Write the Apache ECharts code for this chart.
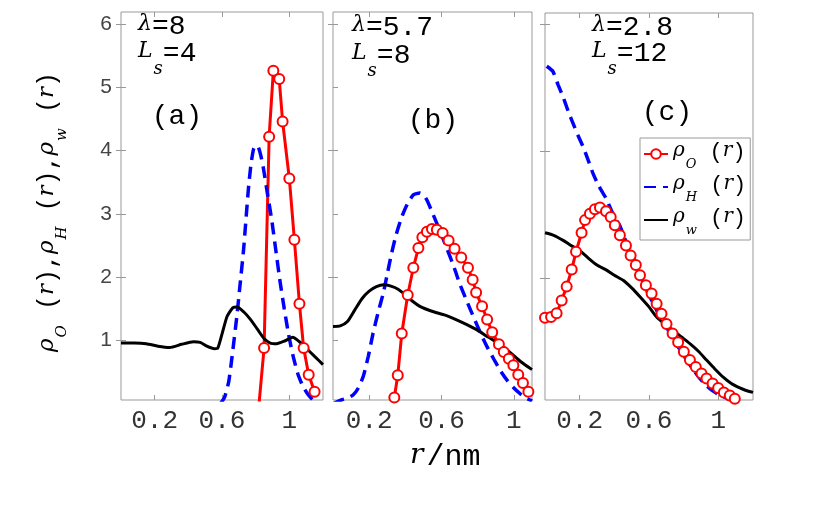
<!DOCTYPE html>
<html>
<head>
<meta charset="utf-8">
<title>rho(r) profiles</title>
<script src="https://cdn.jsdelivr.net/npm/echarts@6.0.0/dist/echarts.min.js"></script>
<style>
  html, body { margin: 0; padding: 0; background: #fff; }
  #main { width: 822px; height: 507px; }
</style>
</head>
<body>
<div id="main"></div>
<script>
// panel (a): lambda = 8, Ls = 4
const aOx = [0.82, 0.85, 0.88, 0.905, 0.94, 0.96, 1.00, 1.03, 1.06, 1.085, 1.115, 1.15];
const aOy = [0.00, 0.88, 4.22, 5.26, 5.13, 4.46, 3.56, 2.59, 1.58, 0.88, 0.46, 0.19];
const aHx = [0.59, 0.615, 0.64, 0.66, 0.688, 0.708, 0.728, 0.742, 0.757, 0.772, 0.787, 0.80, 0.815, 0.83, 0.846, 0.87, 0.895, 0.92, 0.945, 0.97, 0.994, 1.02, 1.05, 1.08, 1.11, 1.14, 1.17];
const aHy = [0.00, 0.10, 0.35, 0.75, 1.38, 1.90, 2.43, 2.90, 3.40, 3.78, 4.02, 4.08, 4.06, 3.93, 3.72, 3.32, 2.91, 2.42, 1.93, 1.50, 1.12, 0.78, 0.48, 0.28, 0.15, 0.06, 0.00];
const aWx = [0.00, 0.08, 0.15, 0.22, 0.29, 0.36, 0.43, 0.47, 0.51, 0.555, 0.575, 0.60, 0.63, 0.665, 0.69, 0.73, 0.77, 0.81, 0.85, 0.886, 0.925, 0.97, 1.02, 1.06, 1.10, 1.15, 1.20];
const aWy = [0.96, 0.96, 0.95, 0.91, 0.89, 0.94, 0.98, 0.97, 0.91, 0.87, 0.88, 1.10, 1.38, 1.52, 1.53, 1.45, 1.33, 1.18, 1.03, 0.96, 0.95, 0.99, 1.05, 0.98, 0.88, 0.75, 0.62];

// panel (b): lambda = 5.7, Ls = 8
const bOx = [0.339, 0.358, 0.38, 0.413, 0.444, 0.472, 0.494, 0.519, 0.547, 0.574, 0.606, 0.639, 0.672, 0.709, 0.746, 0.772, 0.791, 0.824, 0.852, 0.88, 0.917, 0.944, 0.972, 0.997, 1.024, 1.05, 1.08];
const bOy = [0.10, 0.45, 1.11, 1.72, 2.15, 2.46, 2.63, 2.72, 2.76, 2.75, 2.70, 2.58, 2.45, 2.31, 2.15, 1.96, 1.76, 1.54, 1.33, 1.13, 0.94, 0.82, 0.71, 0.61, 0.46, 0.33, 0.19];
const bHx = [0.00, 0.046, 0.08, 0.111, 0.14, 0.167, 0.195, 0.222, 0.25, 0.278, 0.30, 0.324, 0.35, 0.38, 0.41, 0.444, 0.48, 0.50, 0.519, 0.545, 0.574, 0.60, 0.63, 0.67, 0.70, 0.74, 0.78, 0.815, 0.852, 0.89, 0.926, 0.963, 1.00, 1.03, 1.06, 1.09, 1.10];
const bHy = [0.00, 0.06, 0.09, 0.14, 0.25, 0.43, 0.75, 1.12, 1.45, 1.75, 2.05, 2.38, 2.68, 2.95, 3.15, 3.30, 3.33, 3.30, 3.22, 3.05, 2.85, 2.67, 2.45, 2.15, 1.90, 1.62, 1.35, 1.12, 0.90, 0.70, 0.52, 0.37, 0.25, 0.17, 0.10, 0.06, 0.04];
const bWx = [0.00, 0.04, 0.08, 0.12, 0.16, 0.20, 0.24, 0.28, 0.32, 0.36, 0.40, 0.44, 0.48, 0.52, 0.56, 0.62, 0.68, 0.74, 0.80, 0.86, 0.92, 0.98, 1.04, 1.10];
const bWy = [1.22, 1.23, 1.30, 1.48, 1.66, 1.78, 1.85, 1.88, 1.86, 1.81, 1.72, 1.62, 1.54, 1.49, 1.45, 1.40, 1.33, 1.25, 1.16, 1.05, 0.95, 0.81, 0.66, 0.54];

// panel (c): lambda = 2.8, Ls = 12
const cOx = [0.00, 0.035, 0.067, 0.096, 0.125, 0.154, 0.179, 0.211, 0.231, 0.259, 0.288, 0.317, 0.352, 0.379, 0.403, 0.432, 0.467, 0.494, 0.524, 0.548, 0.582, 0.615, 0.644, 0.672, 0.701, 0.736, 0.768, 0.801, 0.836, 0.870, 0.903, 0.932, 0.967, 0.999, 1.032, 1.066, 1.095, 1.12];
const cOy = [1.37, 1.38, 1.44, 1.64, 1.86, 2.13, 2.41, 2.71, 2.91, 3.01, 3.08, 3.11, 3.05, 2.96, 2.83, 2.67, 2.51, 2.35, 2.20, 2.04, 1.88, 1.75, 1.59, 1.43, 1.27, 1.12, 0.98, 0.83, 0.70, 0.59, 0.49, 0.41, 0.33, 0.26, 0.19, 0.14, 0.09, 0.06];
const cHx = [0.01, 0.045, 0.075, 0.105, 0.135, 0.163, 0.19, 0.221, 0.25, 0.278, 0.31, 0.336, 0.355, 0.385, 0.413, 0.432, 0.46, 0.49, 0.509, 0.548, 0.586, 0.624, 0.663, 0.70, 0.739, 0.78, 0.817, 0.855, 0.893, 0.93, 0.97, 1.02, 1.066, 1.09, 1.12];
const cHy = [5.34, 5.26, 5.05, 4.85, 4.62, 4.43, 4.25, 4.06, 3.85, 3.64, 3.45, 3.33, 3.24, 3.05, 2.90, 2.82, 2.62, 2.45, 2.33, 2.05, 1.80, 1.60, 1.38, 1.22, 1.04, 0.86, 0.70, 0.55, 0.41, 0.30, 0.21, 0.13, 0.08, 0.05, 0.02];
const cWx = [0.00, 0.05, 0.105, 0.15, 0.20, 0.25, 0.30, 0.355, 0.40, 0.451, 0.50, 0.548, 0.60, 0.644, 0.69, 0.739, 0.79, 0.836, 0.885, 0.932, 0.98, 1.028, 1.075, 1.124, 1.16, 1.20];
const cWy = [2.71, 2.67, 2.59, 2.51, 2.43, 2.31, 2.20, 2.12, 2.04, 1.96, 1.84, 1.70, 1.54, 1.38, 1.27, 1.17, 1.06, 0.96, 0.84, 0.70, 0.56, 0.43, 0.33, 0.26, 0.22, 0.19];

// ticks
const xTicks = [0.2, 0.6, 1.0];
const yTicksAll = [1, 2, 3, 4, 5, 6];
const yTicksEven = [2, 4, 6];

const panels = [
  { O: [aOx, aOy], H: [aHx, aHy], W: [aWx, aWy], xMax: 1.2, yMin: 0.06, yMax: 6.19, left: yTicksAll, right: yTicksAll,
    grid: { left: 121, top: 12, width: 202, height: 388 } },
  { O: [bOx, bOy], H: [bHx, bHy], W: [bWx, bWy], xMax: 1.1, yMin: 0.06, yMax: 6.19, left: yTicksAll, right: yTicksEven,
    grid: { left: 333, top: 12, width: 199, height: 388 } },
  { O: [cOx, cOy], H: [cHx, cHy], W: [cWx, cWy], xMax: 1.2, yMin: 0.07, yMax: 6.18, left: yTicksEven, right: yTicksEven,
    grid: { left: 545, top: 13, width: 208, height: 387 } }
];

const mono = 'Liberation Mono';
const serif = 'DejaVu Serif';
const boxColor = '#999';

function pairs(xs, ys) {
  return xs.map((x, k) => [x, ys[k]]);
}

function richSet(main, ital, sub, drop) {
  return {
    m: { fontFamily: mono, fontSize: main, lineHeight: main + 4, verticalAlign: 'top', color: '#000' },
    i: { fontFamily: serif, fontStyle: 'italic', fontSize: ital, lineHeight: main + 4, verticalAlign: 'top', color: '#000' },
    s: { fontFamily: serif, fontStyle: 'italic', fontSize: sub, lineHeight: sub, padding: [drop, 0, 0, 1], verticalAlign: 'top', color: '#000' }
  };
}

const annRich = richSet(28, 22, 18, 20);
const legRich = richSet(22, 20, 13, 17);
const yRich = richSet(25, 23, 15, 19);
const xRich = {
  r: { fontFamily: serif, fontStyle: 'italic', fontSize: 28, lineHeight: 34, verticalAlign: 'top', color: '#000' },
  m: { fontFamily: mono, fontSize: 30, lineHeight: 34, verticalAlign: 'top', padding: [0, 0, 0, 3], color: '#000' }
};

const grids = [], xAxes = [], yAxes = [], series = [];
panels.forEach((p, i) => {
  grids.push(Object.assign({ show: true, borderColor: boxColor, borderWidth: 1, outerBoundsMode: 'none' }, p.grid));
  [false, true].forEach(top => {
    xAxes.push({
      type: 'value', gridIndex: i, position: top ? 'top' : 'bottom',
      min: 0, max: p.xMax,
      axisLine: { show: false }, splitLine: { show: false },
      axisTick: { show: true, inside: true, length: 5, lineStyle: { color: boxColor }, customValues: xTicks },
      axisLabel: top ? { show: false } : {
        customValues: xTicks, margin: 8,
        formatter: v => (v === 1 ? '1' : v.toFixed(1)),
        fontFamily: mono, fontSize: 26, color: '#333'
      }
    });
  });
  [p.left, p.right].forEach((ticks, side) => {
    yAxes.push({
      type: 'value', gridIndex: i, position: side ? 'right' : 'left',
      min: p.yMin, max: p.yMax,
      axisLine: { show: false }, splitLine: { show: false },
      axisTick: { show: true, inside: true, length: 5, lineStyle: { color: boxColor }, customValues: ticks },
      axisLabel: (i === 0 && side === 0) ? {
        customValues: ticks, margin: 9,
        fontFamily: 'Liberation Sans', fontSize: 21, color: '#444'
      } : { show: false }
    });
  });
  const base = { type: 'line', xAxisIndex: 2 * i, yAxisIndex: 2 * i, clip: true };
  series.push(Object.assign({}, base, {
    name: 'rhoO', data: pairs(p.O[0], p.O[1]),
    symbol: 'emptyCircle', symbolSize: 10,
    lineStyle: { color: '#ff0000', width: 3 },
    itemStyle: { color: '#ff0000', borderWidth: 2.8 }
  }));
  series.push(Object.assign({}, base, {
    name: 'rhoH', data: pairs(p.H[0], p.H[1]),
    symbol: 'none', smooth: 0.2,
    lineStyle: { color: '#0000ff', width: 3.5, type: [12, 7] },
    itemStyle: { color: '#0000ff' }
  }));
  series.push(Object.assign({}, base, {
    name: 'rhoW', data: pairs(p.W[0], p.W[1]),
    symbol: 'none', smooth: 0.2,
    lineStyle: { color: '#000', width: 3 },
    itemStyle: { color: '#000' }
  }));
});

const legendText = {
  rhoO: '{i|ρ}{s|O}{m| (}{i|r}{m|)}',
  rhoH: '{i|ρ}{s|H}{m| (}{i|r}{m|)}',
  rhoW: '{i|ρ}{s|w}{m| (}{i|r}{m|)}'
};
const noMark = { color: 'rgba(0,0,0,0)', borderColor: 'rgba(0,0,0,0)', borderWidth: 0, opacity: 0 };

function label(x, y, text, align, rich) {
  return {
    type: 'text', x: x, y: y, silent: true,
    style: { text: text, rich: rich || annRich, align: align || 'left', verticalAlign: 'top',
             textAlign: align || 'left', textVerticalAlign: 'top' }
  };
}

const option = {
  animation: false,
  backgroundColor: '#fff',
  grid: grids,
  xAxis: xAxes,
  yAxis: yAxes,
  series: series,
  legend: {
    data: [
      { name: 'rhoO' },
      { name: 'rhoH', itemStyle: noMark },
      { name: 'rhoW', itemStyle: noMark }
    ],
    orient: 'vertical', left: 640, top: 138,
    padding: [3, 4, 3, 3], itemGap: 3, itemWidth: 24, itemHeight: 12,
    backgroundColor: '#fff', borderColor: boxColor, borderWidth: 1, borderRadius: 0,
    selectedMode: false,
    formatter: n => legendText[n],
    textStyle: { rich: legRich }
  },
  graphic: [
    label(138, 13, '{i|λ}{m|=8}'),
    label(138, 40, '{i|L}{s|s}{m|=4}'),
    label(177, 103, '{m|(a)}', 'center'),
    label(352, 14, '{i|λ}{m|=5.7}'),
    label(352, 42, '{i|L}{s|s}{m|=8}'),
    label(433, 107, '{m|(b)}', 'center'),
    label(592, 14, '{i|λ}{m|=2.8}'),
    label(592, 40, '{i|L}{s|s}{m|=12}'),
    label(667, 99, '{m|(c)}', 'center'),
    label(410, 442, '{r|r}{m|/nm}', 'left', xRich),
    {
      type: 'text', x: 50, y: 212, rotation: Math.PI / 2, silent: true,
      style: {
        text: '{i|ρ}{s|O}{m| (}{i|r}{m|),}{i|ρ}{s|H}{m| (}{i|r}{m|),}{i|ρ}{s|w}{m| (}{i|r}{m|)}',
        rich: yRich, align: 'center', verticalAlign: 'middle',
        textAlign: 'center', textVerticalAlign: 'middle'
      }
    }
  ]
};

const chart = echarts.init(document.getElementById('main'));
chart.setOption(option);
</script>
</body>
</html>
